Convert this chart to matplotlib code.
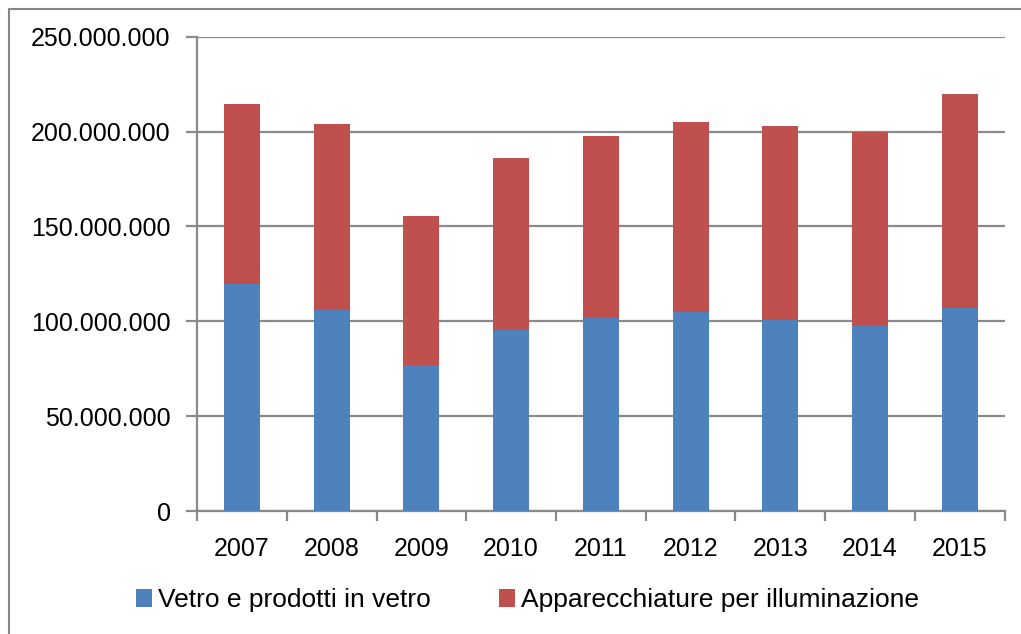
import numpy as np
import matplotlib.pyplot as plt
from matplotlib.lines import Line2D
from matplotlib.ticker import FuncFormatter

# dati (valori in euro)
anni = ["2007", "2008", "2009", "2010", "2011", "2012", "2013", "2014", "2015"]
vetro = [119.6e6, 105.9e6, 77.0e6, 95.3e6, 101.6e6, 104.8e6, 100.6e6, 97.4e6, 106.9e6]
illuminazione = [94.7e6, 98.1e6, 78.4e6, 90.7e6, 96.0e6, 100.2e6, 102.3e6, 102.3e6, 112.9e6]

plt.rcParams['font.family'] = ['Liberation Sans', 'DejaVu Sans']

fig = plt.figure(figsize=(10.21, 6.34), dpi=100)
ax = fig.add_axes([0.193, 0.194, 0.791, 0.748])

# bordo esterno (solo sinistra e alto visibili)
W, H = 1021, 634
fig.lines.append(Line2D([9 / W, 9 / W, 1.0], [0.0, 1 - 9 / H, 1 - 9 / H],
                        transform=fig.transFigure, color='#868686', linewidth=1.5))

x = np.arange(len(anni))
ax.bar(x, vetro, width=0.4, color='#4F81BD', label='Vetro e prodotti in vetro', zorder=3)
ax.bar(x, illuminazione, width=0.4, bottom=vetro, color='#C0504D',
       label='Apparecchiature per illuminazione', zorder=3)

ax.set_xlim(-0.5, len(anni) - 0.5)
ax.set_ylim(0, 250e6)
ax.set_yticks(np.arange(0, 250e6 + 1, 50e6))
ax.yaxis.set_major_formatter(FuncFormatter(lambda v, p: f"{int(v):,}".replace(",", ".")))
ax.set_xticks(x)
ax.set_xticklabels(anni)
ax.set_xticks(np.arange(-0.5, len(anni), 1), minor=True)

ax.grid(axis='y', color='#8a8a8a', linewidth=1.6, zorder=0)
for s in ['top', 'right']:
    ax.spines[s].set_visible(False)
for s in ['left', 'bottom']:
    ax.spines[s].set_color('#8a8a8a')
    ax.spines[s].set_linewidth(1.6)

ax.tick_params(axis='y', length=8, width=1.6, color='#8a8a8a', labelsize=18, pad=11)
ax.tick_params(axis='x', which='major', length=0, labelsize=18, pad=19)
ax.tick_params(axis='x', which='minor', length=7, width=1.6, color='#8a8a8a')

ax.legend(loc='center left', bbox_to_anchor=(136 / W, 1 - 600 / H),
          bbox_transform=fig.transFigure, ncol=2, frameon=False, borderpad=0,
          borderaxespad=0, fontsize=19, handlelength=0.62, handleheight=0.68,
          handletextpad=0.2, columnspacing=2.6)

fig.savefig("out.png", dpi=100)
